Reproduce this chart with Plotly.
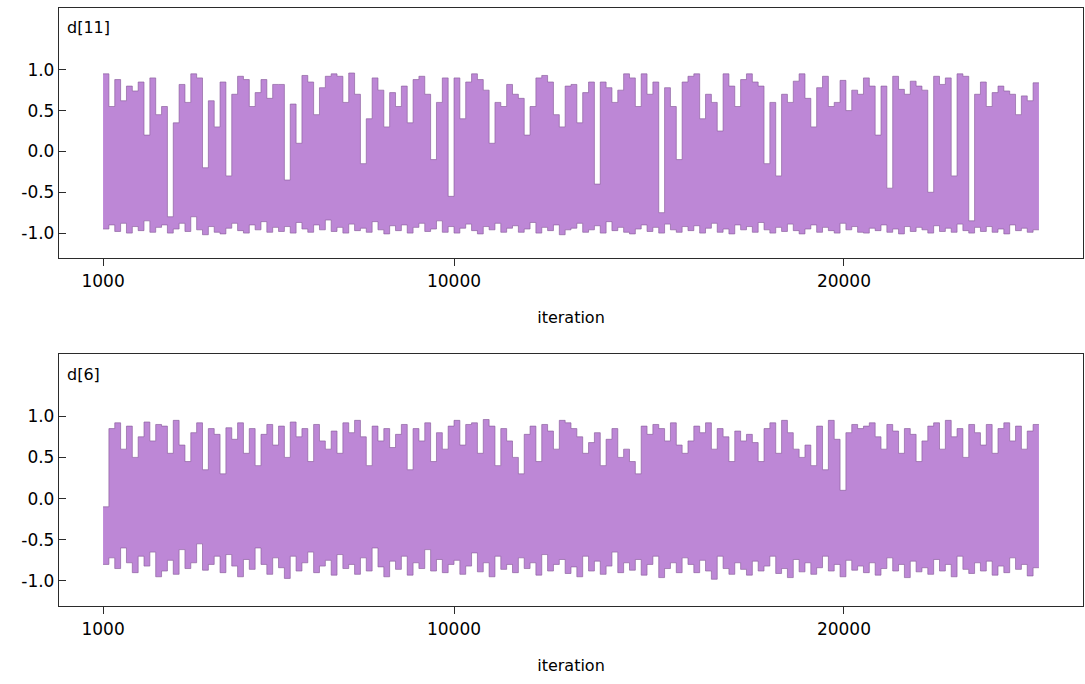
import numpy as np
import plotly.graph_objects as go

# ---- data (per-bin max / min of the MCMC chains) ----
iter_start = 1000
iter_end = 25000

d11_hi = [0.95, 0.55, 0.88, 0.62, 0.80, 0.74, 0.85, 0.20, 0.90, 0.45,
          0.55, -0.80, 0.35, 0.82, 0.60, 0.95, 0.90, -0.20, 0.62, 0.30,
          0.85, -0.30, 0.70, 0.92, 0.88, 0.55, 0.72, 0.88, 0.65, 0.82,
          0.82, -0.35, 0.58, 0.10, 0.93, 0.85, 0.45, 0.78, 0.92, 0.95,
          0.92, 0.60, 0.96, 0.70, -0.15, 0.40, 0.90, 0.75, 0.30, 0.72,
          0.55, 0.80, 0.35, 0.88, 0.92, 0.70, -0.10, 0.60, 0.90, -0.55,
          0.90, 0.40, 0.85, 0.95, 0.88, 0.75, 0.10, 0.60, 0.55, 0.82,
          0.70, 0.65, 0.20, 0.55, 0.90, 0.93, 0.85, 0.45, 0.30, 0.80,
          0.82, 0.35, 0.72, 0.85, -0.40, 0.85, 0.78, 0.60, 0.75, 0.95,
          0.90, 0.55, 0.95, 0.70, 0.85, -0.75, 0.78, 0.55, -0.10, 0.85,
          0.92, 0.95, 0.40, 0.70, 0.60, 0.25, 0.95, 0.80, 0.55, 0.88,
          0.95, 0.85, 0.80, -0.15, 0.60, -0.30, 0.70, 0.60, 0.86, 0.95,
          0.65, 0.30, 0.78, 0.92, 0.55, 0.60, 0.87, 0.50, 0.75, 0.70,
          0.90, 0.80, 0.20, 0.80, -0.45, 0.92, 0.76, 0.70, 0.86, 0.80,
          0.75, -0.50, 0.92, 0.82, 0.90, -0.30, 0.95, 0.92, -0.85, 0.70,
          0.85, 0.55, 0.72, 0.80, 0.74, 0.70, 0.45, 0.68, 0.62, 0.84]

d11_lo = [-0.95, -0.90, -0.98, -0.88, -1.00, -0.92, -0.97, -0.85, -0.99, -0.93,
          -0.90, -1.00, -0.95, -0.88, -0.98, -0.80, -0.96, -1.02, -0.92, -0.99,
          -1.01, -0.94, -0.88, -0.97, -1.00, -0.90, -0.96, -0.86, -0.99, -0.93,
          -0.98, -0.92, -1.00, -0.87, -0.95, -0.99, -0.90, -0.96, -0.84, -0.98,
          -0.93, -1.00, -0.89, -0.97, -0.94, -0.99, -0.86, -0.96, -1.01, -0.91,
          -0.97, -0.90, -1.00, -0.93, -0.88, -0.98, -0.95, -0.85, -0.99, -0.92,
          -1.00, -0.94, -0.89, -0.97, -1.01, -0.92, -0.96, -0.88, -0.99, -0.94,
          -0.91, -0.99, -0.95, -0.87, -1.00, -0.93, -0.97, -0.90, -1.02, -0.96,
          -0.94, -0.88, -0.99, -0.96, -0.91, -1.00, -0.86, -0.97, -0.93, -0.99,
          -1.01, -0.95, -0.90, -0.98, -0.93, -1.00, -0.89, -0.96, -0.99, -0.92,
          -0.97, -0.91, -1.00, -0.94, -0.88, -0.99, -0.95, -1.01, -0.90, -0.96,
          -0.92, -0.99, -0.87, -0.96, -1.00, -0.93, -0.98, -0.89, -0.97, -1.01,
          -0.95, -0.90, -0.99, -0.93, -0.97, -1.00, -0.88, -0.96, -0.92, -0.99,
          -1.00, -0.94, -0.97, -0.90, -0.99, -0.95, -1.01, -0.92, -0.98, -0.93,
          -0.96, -1.00, -0.91, -0.98, -0.94, -0.99, -0.89, -0.97, -1.00, -0.93,
          -0.98, -0.92, -0.99, -0.95, -1.01, -0.90, -0.97, -0.94, -0.99, -0.96]

d6_hi = [-0.10, 0.85, 0.92, 0.60, 0.88, 0.50, 0.75, 0.93, 0.70, 0.90,
         0.88, 0.55, 0.95, 0.65, 0.45, 0.80, 0.92, 0.35, 0.85, 0.78,
         0.30, 0.86, 0.72, 0.92, 0.55, 0.85, 0.40, 0.78, 0.90, 0.65,
         0.88, 0.50, 0.93, 0.75, 0.85, 0.45, 0.90, 0.70, 0.60, 0.82,
         0.55, 0.92, 0.80, 0.95, 0.75, 0.40, 0.88, 0.70, 0.85, 0.62,
         0.78, 0.90, 0.35, 0.85, 0.70, 0.92, 0.45, 0.80, 0.60, 0.88,
         0.95, 0.65, 0.90, 0.92, 0.55, 0.96, 0.88, 0.40, 0.85, 0.70,
         0.50, 0.30, 0.78, 0.88, 0.45, 0.90, 0.82, 0.60, 0.95, 0.92,
         0.85, 0.75, 0.55, 0.68, 0.80, 0.40, 0.72, 0.85, 0.50, 0.60,
         0.45, 0.30, 0.88, 0.78, 0.90, 0.85, 0.70, 0.92, 0.65, 0.55,
         0.70, 0.88, 0.80, 0.92, 0.60, 0.85, 0.75, 0.45, 0.82, 0.70,
         0.78, 0.68, 0.45, 0.85, 0.92, 0.55, 0.95, 0.80, 0.60, 0.50,
         0.65, 0.40, 0.88, 0.35, 0.95, 0.72, 0.10, 0.80, 0.90, 0.85,
         0.88, 0.92, 0.75, 0.60, 0.90, 0.82, 0.55, 0.85, 0.78, 0.45,
         0.70, 0.88, 0.92, 0.60, 0.95, 0.75, 0.85, 0.50, 0.90, 0.80,
         0.65, 0.90, 0.55, 0.85, 0.92, 0.70, 0.88, 0.60, 0.82, 0.90]

d6_lo = [-0.80, -0.72, -0.85, -0.60, -0.78, -0.90, -0.70, -0.82, -0.65, -0.95,
         -0.88, -0.75, -0.92, -0.62, -0.85, -0.78, -0.55, -0.87, -0.80, -0.70,
         -0.90, -0.68, -0.82, -0.95, -0.74, -0.86, -0.60, -0.80, -0.92, -0.72,
         -0.84, -0.97, -0.70, -0.88, -0.78, -0.65, -0.90, -0.82, -0.75, -0.93,
         -0.68, -0.85, -0.80, -0.92, -0.72, -0.88, -0.60, -0.83, -0.95, -0.76,
         -0.86, -0.70, -0.93, -0.78, -0.85, -0.62, -0.88, -0.74, -0.90, -0.80,
         -0.75, -0.92, -0.82, -0.66, -0.89, -0.78, -0.95, -0.70, -0.86, -0.80,
         -0.90, -0.72, -0.85, -0.78, -0.93, -0.68, -0.88, -0.80, -0.74, -0.91,
         -0.83, -0.95, -0.70, -0.88, -0.76, -0.92, -0.82, -0.65, -0.90, -0.78,
         -0.87, -0.74, -0.93, -0.80, -0.70, -0.96, -0.85, -0.78, -0.90, -0.72,
         -0.80, -0.90, -0.75, -0.88, -0.98, -0.70, -0.85, -0.92, -0.78, -0.86,
         -0.93, -0.76, -0.88, -0.82, -0.70, -0.91, -0.85, -0.96, -0.74, -0.89,
         -0.78, -0.92, -0.84, -0.70, -0.88, -0.80, -0.95, -0.75, -0.87, -0.82,
         -0.90, -0.78, -0.93, -0.85, -0.72, -0.88, -0.80, -0.96, -0.76, -0.89,
         -0.84, -0.92, -0.74, -0.88, -0.80, -0.95, -0.70, -0.86, -0.91, -0.78,
         -0.88, -0.76, -0.93, -0.82, -0.90, -0.72, -0.86, -0.80, -0.94, -0.84]

panels = [("d[11]", d11_hi, d11_lo), ("d[6]", d6_hi, d6_lo)]
x_ticks = [1000, 10000, 20000]
y_ticks = [-1.0, -0.5, 0.0, 0.5, 1.0]

# ---- style ----
W, H = 1085, 684
FONT = "DejaVu Sans"
FILL = "rgb(189,135,214)"
EDGE = "rgba(135,92,155,0.8)"
AXC = "#2b2b2b"

# panel pixel boxes (left, top, right, bottom)
boxes = [(59, 8, 1083, 258), (59, 354, 1083, 606)]

fig = go.Figure()
layout = dict(width=W, height=H, margin=dict(l=0, r=0, t=0, b=0),
              paper_bgcolor="white", plot_bgcolor="white", showlegend=False,
              annotations=[])

for k, (name, hi, lo) in enumerate(panels):
    n = len(hi)
    xs = np.linspace(iter_start, iter_end, n + 1)
    xa = "x" if k == 0 else f"x{k+1}"
    ya = "y" if k == 0 else f"y{k+1}"
    fig.add_trace(go.Scatter(x=xs, y=list(lo) + [lo[-1]], mode="lines",
                             line=dict(shape="hv", width=0.8, color=EDGE),
                             xaxis=xa, yaxis=ya, hoverinfo="skip"))
    fig.add_trace(go.Scatter(x=xs, y=list(hi) + [hi[-1]], mode="lines",
                             line=dict(shape="hv", width=0.8, color=EDGE),
                             fill="tonexty", fillcolor=FILL,
                             xaxis=xa, yaxis=ya, hoverinfo="skip"))
    L, T, R, B = boxes[k]
    xkey = "xaxis" if k == 0 else f"xaxis{k+1}"
    ykey = "yaxis" if k == 0 else f"yaxis{k+1}"
    layout[xkey] = dict(domain=[L / W, R / W], anchor=ya, range=[-130, 26130],
                        tickvals=x_ticks, ticktext=[str(v) for v in x_ticks],
                        ticks="outside", ticklen=7, tickcolor=AXC, tickwidth=1.2,
                        showline=True, mirror=True, linecolor=AXC, linewidth=1.3,
                        showgrid=False, zeroline=False,
                        tickfont=dict(family=FONT, size=17, color="black"),
                        title=dict(text="iteration", standoff=22,
                                   font=dict(family=FONT, size=16, color="black")))
    layout[ykey] = dict(domain=[1 - B / H, 1 - T / H], anchor=xa,
                        range=[-1.305, 1.756],
                        tickvals=y_ticks, ticktext=[f"{v:.1f}" for v in y_ticks],
                        ticks="inside", ticklen=7, tickcolor=AXC, tickwidth=1.2,
                        showline=True, mirror=True, linecolor=AXC, linewidth=1.3,
                        showgrid=False, zeroline=False,
                        tickfont=dict(family=FONT, size=17, color="black"))
    layout["annotations"].append(dict(
        text=name, xref=f"{xa} domain", yref=f"{ya} domain",
        x=0.006, y=1 - 20 / (B - T), xanchor="left", yanchor="middle",
        showarrow=False, font=dict(family=FONT, size=16, color="black")))

fig.update_layout(**layout)
fig.write_html("out.html")
